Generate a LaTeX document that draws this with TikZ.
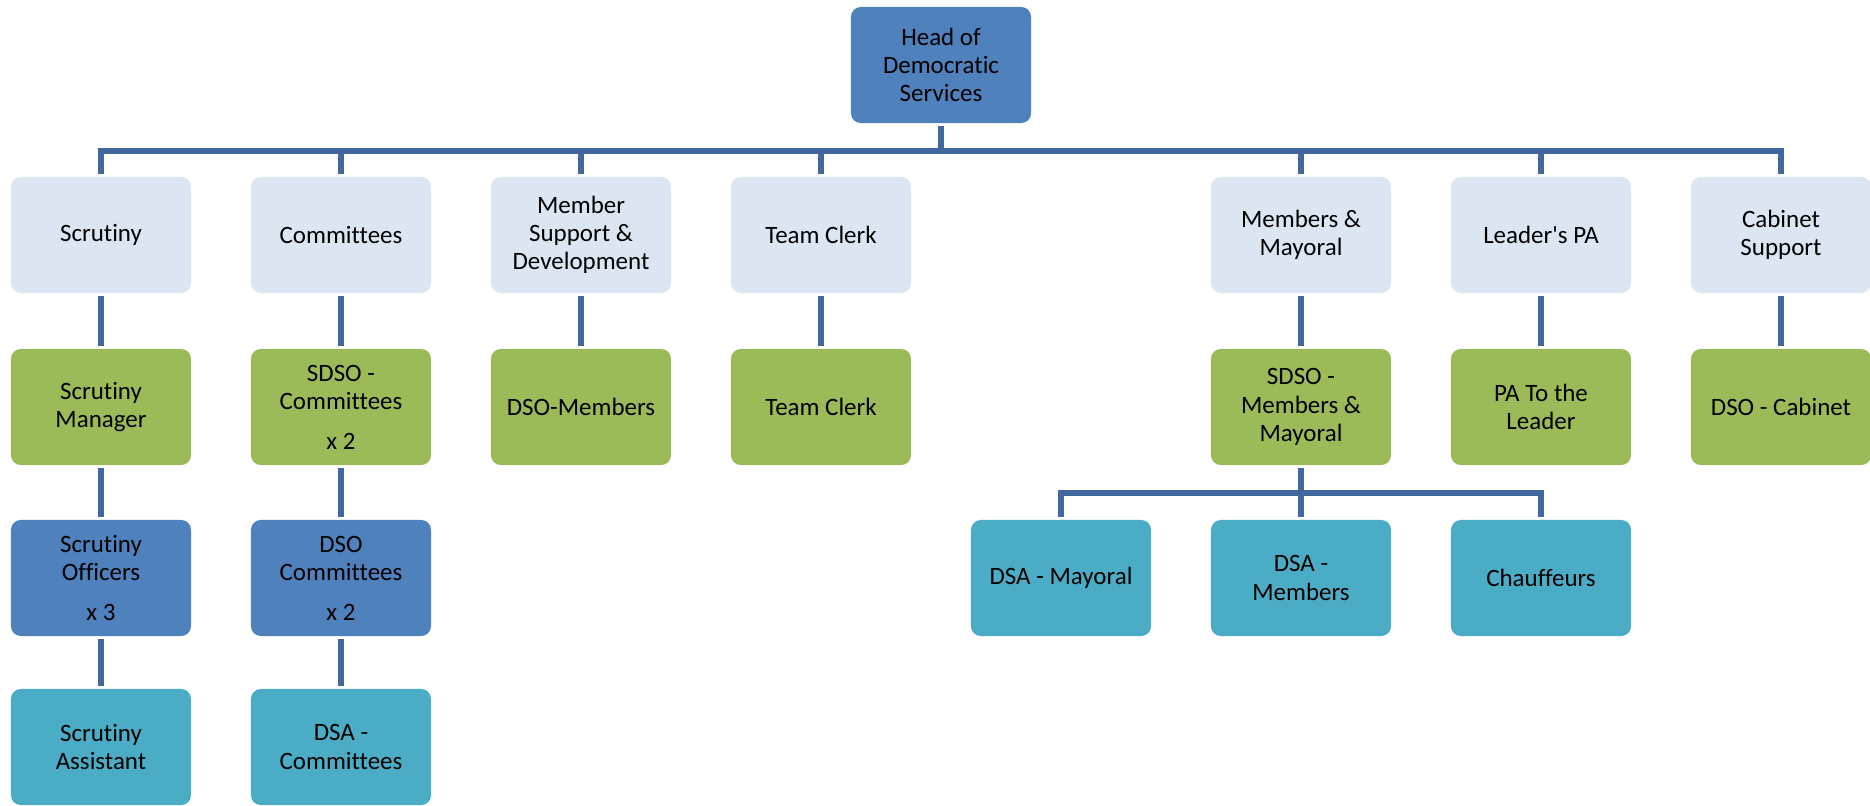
\documentclass[tikz,border=0pt]{standalone}
\usepackage{fontspec}
\setmainfont{Carlito}[Ligatures={TeX,NoCommon}]
\usepackage{tikz}
\usetikzlibrary{calc}
\definecolor{lightbox}{RGB}{220,230,242}
\definecolor{headblue}{RGB}{79,129,189}
\definecolor{olivebox}{RGB}{155,187,89}
\definecolor{tealbox}{RGB}{75,172,198}
\definecolor{linkblue}{RGB}{64,104,158}

\begin{document}
\begin{tikzpicture}[x=0.01cm,y=-0.01cm,
    unit/.style={rounded corners=2.8pt, minimum width=1.80cm,
      minimum height=1.16cm, align=center, inner sep=0pt,
      outer sep=0.8pt, font=\fontsize{7.1}{8}\selectfont},
    section/.style={unit, fill=lightbox},
    lead/.style={unit, fill=olivebox},
    officer/.style={unit, fill=headblue},
    assistant/.style={unit, fill=tealbox},
    link/.style={linkblue, line width=1.5pt}]

    \useasboundingbox (0,0) rectangle (1870,805);

    %% head
    \node[officer] (head) at (941,65) {Head of\\Democratic\\Services};

    %%%%%%%%%%%%%%%%
    %% sections
    \node[section] (scrutiny)   at (101,235)  {Scrutiny};
    \node[section] (committees) at (341,235)  {Committees};
    \node[section] (member)     at (581,235)  {Member\\Support \&\\Development};
    \node[section] (clerk)      at (821,235)  {Team Clerk};
    \node[section] (mayoral)    at (1301,235) {Members \&\\Mayoral};
    \node[section] (leaderpa)   at (1541,235) {Leader\textquotesingle s PA};
    \node[section] (cabinet)    at (1781,235) {Cabinet\\Support};

    %%%%%%%%%%%%%%%%
    %% second row
    \node[lead] (scrmanager)  at (101,407)  {Scrutiny\\Manager};
    \node[lead] (sdsocomm)    at (341,407)  {SDSO -\\Committees\\[3.4pt]x 2};
    \node[lead] (dsomembers)  at (581,407)  {DSO-Members};
    \node[lead] (clerkpost)   at (821,407)  {Team Clerk};
    \node[lead] (sdsomembers) at (1301,407) {SDSO -\\Members \&\\Mayoral};
    \node[lead] (patoleader)  at (1541,407) {PA To the\\Leader};
    \node[lead] (dsocabinet)  at (1781,407) {DSO - Cabinet};

    %%%%%%%%%%%%%%%%
    %% third row
    \node[officer] (scrofficers) at (101,578) {Scrutiny\\Officers\\[3.4pt]x 3};
    \node[officer] (dsocomm)     at (341,578) {DSO\\Committees\\[3.4pt]x 2};
    \node[assistant] (dsamayoral)  at (1061,578) {DSA - Mayoral};
    \node[assistant] (dsamembers)  at (1301,578) {DSA -\\Members};
    \node[assistant] (chauffeurs)  at (1541,578) {Chauffeurs};

    %% bottom row
    \node[assistant] (scrassistant) at (101,747) {Scrutiny\\Assistant};
    \node[assistant] (dsacomm)      at (341,747) {DSA -\\Committees};

    %%%%%%%%%%%%%%%%
    %% main bar
    \coordinate (bar) at (0,151);
    \draw[link] (head) -- (head |- bar);
    \draw[link] (scrutiny) |- (head |- bar) -| (cabinet);
    \foreach \n in {committees,member,clerk,mayoral,leaderpa}
      \draw[link] (\n) -- (\n |- bar);

    %% columns
    \draw[link] (scrutiny) -- (scrmanager) -- (scrofficers) -- (scrassistant);
    \draw[link] (committees) -- (sdsocomm) -- (dsocomm) -- (dsacomm);
    \draw[link] (member) -- (dsomembers);
    \draw[link] (clerk) -- (clerkpost);
    \draw[link] (mayoral) -- (sdsomembers);
    \draw[link] (leaderpa) -- (patoleader);
    \draw[link] (cabinet) -- (dsocabinet);

    %% sub bar
    \coordinate (subbar) at (0,493);
    \draw[link] (sdsomembers) -- (dsamembers);
    \draw[link] (dsamayoral) |- (sdsomembers |- subbar) -| (chauffeurs);

  \end{tikzpicture}
\end{document}
